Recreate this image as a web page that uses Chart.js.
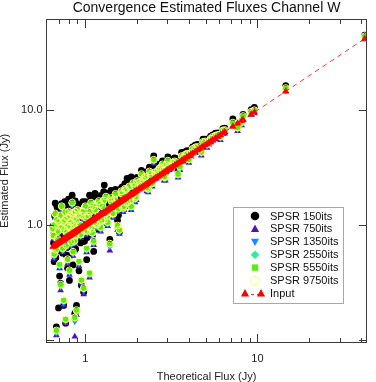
<!DOCTYPE html>
<html><head><meta charset="utf-8">
<script src="https://cdn.jsdelivr.net/npm/chart.js@4/dist/chart.umd.min.js"></script>
<style>html,body{margin:0;padding:0;background:#fff}canvas{display:block}</style>
</head><body>
<canvas id="c" width="376" height="382"></canvas>
<script>
const chartTitle = 'Convergence Estimated Fluxes Channel W';
const xTitle = 'Theoretical Flux (Jy)';
const yTitle = 'Estimated Flux (Jy)';
const seriesNames = ['SPSR 150its','SPSR 750its','SPSR 1350its','SPSR 2550its','SPSR 5550its','SPSR 9750its','Input'];
const xTickValues = [1, 10];
const xTickLabels = ['1', '10'];
const xMinorTicks = [0.7,0.8,0.9,2,3,4,5,6,7,8,9,20,30,40];
const yTickValues = [0.1, 1, 10];
const yTickLabels = ['0.1', '1.0', '10.0'];

const theoFlux = [0.65,0.66,0.67,0.68,0.69,0.70,0.71,0.72,0.73,0.74,0.75,0.76,0.77,0.78,0.79,0.80,0.81,0.82,0.83,0.84,0.85,0.86,0.87,0.88,0.89,0.90,0.92,0.93,0.95,0.96,0.98,0.99,
 1.00,1.02,1.04,1.06,1.08,1.10,1.12,1.14,1.17,1.20,1.23,1.26,1.29,1.32,1.35,1.39,1.42,1.46,1.50,1.54,1.58,1.62,1.66,1.70,1.75,1.80,1.85,1.90,1.95,2.00,
 2.05,2.12,2.20,2.28,2.36,2.45,2.50,2.58,2.70,2.81,2.92,3.02,3.15,3.30,3.46,3.63,3.79,4.00,4.20,4.35,4.60,4.83,5.10,5.35,5.70,6.10,6.47,
 7.20,7.67,8.10,8.25,9.20,9.60,14.6,42.0,
 0.655,0.665,0.675,0.685,0.695,0.705,0.715,0.725,0.735,0.745,0.755,0.765,0.775,0.785,0.795,0.805,0.815,0.825,0.835,0.845,0.855,0.865,0.875,0.885,0.895,0.91,0.94,0.97,
 1.01,1.03,1.05,1.07,1.09,1.11,1.13,1.16,1.19,1.22,1.25,1.28,1.31,1.34,1.37,1.41,1.44,1.48,1.52,1.56,1.60,1.64,1.68,1.72,1.78,1.83,1.88,1.93,1.98,
 2.08,2.16,2.24,2.32,2.41,2.54,2.64,2.76,2.87,2.97,3.08,3.22,3.38,3.55,3.71,3.90,4.10,4.48,4.72,4.97,5.22,5.50,5.90,6.30];
const est150 = [0.98,0.48,1.55,0.13,1.33,0.19,0.36,0.31,1.54,0.57,0.20,1.60,0.14,0.70,0.42,1.68,0.33,0.88,0.55,1.82,0.45,1.25,0.17,0.62,0.20,1.49,0.40,1.22,0.30,1.15,0.26,0.72,
 1.60,0.50,1.35,1.82,1.70,0.80,0.59,1.89,1.15,1.75,1.08,1.62,2.23,1.90,1.25,0.75,1.78,1.40,2.05,1.10,0.87,2.10,1.60,2.30,2.55,2.35,2.63,2.50,1.90,2.60,
 2.45,3.00,2.83,2.35,3.20,2.55,4.00,3.00,3.40,3.62,2.85,3.93,3.55,3.85,2.95,4.30,4.34,3.95,4.80,4.97,4.75,5.60,5.25,5.95,6.30,6.15,6.97,
 8.4,7.4,8.0,9.2,10.1,10.6,16.4,45.0,
 0.70,1.20,0.52,1.45,0.80,0.60,1.38,1.10,0.62,1.30,0.82,1.50,0.55,1.40,1.10,0.65,1.45,1.25,0.75,1.55,1.12,0.60,1.62,1.30,0.80,1.52,0.70,1.60,
 1.40,0.78,1.10,1.55,1.05,1.75,1.25,0.92,1.45,1.80,1.25,1.95,1.50,1.05,1.60,2.00,1.45,1.95,1.75,1.22,1.80,2.15,1.70,2.30,2.00,1.50,2.05,2.45,2.05,
 2.60,2.70,2.90,2.25,3.05,3.15,3.25,3.45,2.80,3.60,3.50,3.75,3.80,3.45,4.10,4.45,4.50,5.05,4.60,5.60,5.65,6.10,6.35,6.90];
const est750 = [0.86,0.51,1.16,0.11,0.70,0.98,0.42,0.27,1.35,0.58,0.20,1.02,0.14,0.79,0.46,1.21,0.37,0.88,0.65,1.44,0.54,1.07,0.107,0.74,0.165,1.26,0.44,0.93,0.31,1.12,0.25,0.82,
 1.35,0.58,1.12,0.35,1.44,0.79,0.67,1.26,0.93,1.49,0.88,1.35,1.02,1.63,0.98,0.60,1.49,1.16,1.72,0.91,0.84,1.81,1.30,1.91,1.44,2.00,1.35,2.14,1.58,2.23,
 2.07,2.59,2.40,1.97,2.73,2.16,3.45,2.54,2.91,3.15,2.44,3.38,3.10,3.34,2.59,3.71,3.81,3.48,4.28,4.42,4.23,4.94,4.70,5.26,5.59,5.50,6.25,
 7.3,6.6,7.4,8.3,9.1,9.4,14.6,41.5,
 0.75,0.94,0.56,1.03,0.83,0.64,1.13,0.89,0.68,0.99,0.85,1.20,0.62,1.08,0.92,0.73,1.13,0.99,0.81,1.18,0.94,0.68,1.22,1.02,0.86,1.15,0.77,1.22,
 1.08,0.83,0.89,1.22,0.86,1.36,0.99,0.96,1.13,1.41,1.02,1.52,1.18,1.11,1.27,1.60,1.18,1.55,1.41,1.30,1.46,1.74,1.36,1.88,1.65,1.52,1.69,2.02,1.65,
 2.21,2.30,2.44,1.93,2.59,2.68,2.77,2.96,2.44,3.10,3.01,3.24,3.29,3.01,3.57,3.90,3.95,4.47,4.04,4.98,5.03,5.45,5.69,6.20];
const est1350 = [0.88,0.53,1.20,0.115,0.72,1.01,0.43,0.29,1.39,0.60,0.21,1.06,0.145,0.82,0.48,1.25,0.385,0.91,0.67,1.49,0.56,1.10,0.145,0.77,0.17,1.30,0.46,0.96,0.32,1.15,0.27,0.85,
 1.39,0.60,1.15,0.365,1.49,0.82,0.69,1.30,0.96,1.54,0.91,1.39,1.06,1.68,1.01,0.65,1.54,1.20,1.78,0.94,0.86,1.87,1.34,1.97,1.49,2.06,1.39,2.21,1.63,2.30,
 2.13,2.67,2.47,2.04,2.81,2.23,3.56,2.62,3.01,3.25,2.52,3.49,3.20,3.44,2.67,3.83,3.93,3.59,4.41,4.56,4.37,5.09,4.85,5.43,5.77,5.67,6.45,
 7.5,6.8,7.6,8.5,9.3,9.6,15.0,42.5,
 0.78,0.97,0.58,1.07,0.85,0.66,1.16,0.92,0.70,1.02,0.87,1.24,0.64,1.12,0.95,0.76,1.16,1.02,0.83,1.21,0.97,0.70,1.26,1.05,0.89,1.18,0.80,1.26,
 1.12,0.85,0.92,1.26,0.89,1.41,1.02,0.99,1.16,1.46,1.05,1.57,1.21,1.14,1.31,1.65,1.21,1.60,1.46,1.34,1.50,1.79,1.41,1.94,1.70,1.57,1.75,2.09,1.70,
 2.28,2.38,2.52,1.99,2.67,2.76,2.86,3.06,2.52,3.20,3.10,3.35,3.40,3.10,3.69,4.03,4.07,4.61,4.17,5.14,5.19,5.63,5.87,6.40];
const est2550 = [0.91,0.545,1.24,0.119,0.74,1.04,0.445,0.297,1.44,0.61,0.218,1.09,0.149,0.84,0.495,1.29,0.396,0.94,0.69,1.53,0.574,1.14,0.153,0.79,0.178,1.34,0.475,0.99,0.327,1.19,0.277,0.87,
 1.44,0.61,1.19,0.376,1.53,0.84,0.71,1.34,0.99,1.58,0.94,1.44,1.09,1.73,1.04,0.67,1.58,1.24,1.83,0.97,0.89,1.93,1.39,2.03,1.53,2.13,1.44,2.28,1.68,2.38,
 2.18,2.72,2.52,2.08,2.87,2.28,3.63,2.67,3.07,3.32,2.57,3.56,3.27,3.51,2.72,3.91,4.01,3.66,4.50,4.65,4.46,5.20,4.95,5.54,5.89,5.79,6.58,
 7.6,6.9,7.7,8.7,9.5,9.8,15.3,43.0,
 0.79,0.99,0.59,1.09,0.87,0.67,1.19,0.94,0.71,1.04,0.89,1.27,0.65,1.14,0.97,0.77,1.19,1.04,0.85,1.24,0.99,0.71,1.29,1.07,0.91,1.21,0.81,1.29,
 1.14,0.87,0.94,1.29,0.91,1.44,1.04,1.01,1.19,1.49,1.07,1.60,1.24,1.17,1.34,1.68,1.24,1.63,1.49,1.37,1.53,1.83,1.44,1.98,1.73,1.60,1.78,2.13,1.73,
 2.33,2.43,2.57,2.03,2.72,2.82,2.92,3.12,2.57,3.27,3.17,3.42,3.47,3.17,3.76,4.11,4.16,4.70,4.26,5.25,5.30,5.74,5.99,6.53];
const est5550 = [0.92,0.55,1.25,0.12,0.75,1.05,0.45,0.30,1.45,0.62,0.22,1.10,0.15,0.85,0.50,1.30,0.40,0.95,0.70,1.55,0.58,1.15,0.155,0.80,0.18,1.35,0.48,1.00,0.33,1.20,0.28,0.88,
 1.45,0.62,1.20,0.38,1.55,0.85,0.72,1.35,1.00,1.60,0.95,1.45,1.10,1.75,1.05,0.68,1.60,1.25,1.85,0.98,0.90,1.95,1.40,2.05,1.55,2.15,1.45,2.30,1.70,2.40,
 2.20,2.75,2.55,2.10,2.90,2.30,3.67,2.70,3.10,3.35,2.60,3.60,3.30,3.55,2.75,3.95,4.05,3.70,4.55,4.70,4.50,5.25,5.00,5.60,5.95,5.85,6.65,
 7.7,7.0,7.8,8.8,9.6,9.9,15.4,43.5,
 0.80,1.00,0.60,1.10,0.88,0.68,1.20,0.95,0.72,1.05,0.90,1.28,0.66,1.15,0.98,0.78,1.20,1.05,0.86,1.25,1.00,0.72,1.30,1.08,0.92,1.22,0.82,1.30,
 1.15,0.88,0.95,1.30,0.92,1.45,1.05,1.02,1.20,1.50,1.08,1.62,1.25,1.18,1.35,1.70,1.25,1.65,1.50,1.38,1.55,1.85,1.45,2.00,1.75,1.62,1.80,2.15,1.75,
 2.35,2.45,2.60,2.05,2.75,2.85,2.95,3.15,2.60,3.30,3.20,3.45,3.50,3.20,3.80,4.15,4.20,4.75,4.30,5.30,5.35,5.80,6.05,6.60];
const est9750 = [0.93,0.56,1.26,0.121,0.76,1.06,0.455,0.303,1.46,0.63,0.222,1.11,0.152,0.86,0.505,1.31,0.404,0.96,0.71,1.57,0.586,1.16,0.157,0.81,0.182,1.36,0.485,1.01,0.333,1.21,0.283,0.89,
 1.46,0.63,1.21,0.384,1.57,0.86,0.73,1.36,1.01,1.62,0.96,1.46,1.11,1.77,1.06,0.69,1.62,1.26,1.87,0.99,0.91,1.97,1.41,2.07,1.57,2.17,1.46,2.32,1.72,2.42,
 2.22,2.78,2.58,2.12,2.93,2.32,3.71,2.73,3.13,3.38,2.63,3.64,3.33,3.59,2.78,3.99,4.09,3.74,4.60,4.75,4.55,5.30,5.05,5.66,6.01,5.91,6.72,
 7.8,7.1,7.9,8.9,9.7,10.0,15.6,44.0,
 0.81,1.01,0.61,1.11,0.89,0.69,1.21,0.96,0.73,1.06,0.91,1.29,0.67,1.16,0.99,0.79,1.21,1.06,0.87,1.26,1.01,0.73,1.31,1.09,0.93,1.23,0.83,1.31,
 1.16,0.89,0.96,1.31,0.93,1.46,1.06,1.03,1.21,1.52,1.09,1.64,1.26,1.19,1.36,1.72,1.26,1.67,1.52,1.39,1.57,1.87,1.46,2.02,1.77,1.64,1.82,2.17,1.77,
 2.37,2.47,2.63,2.07,2.78,2.88,2.98,3.18,2.63,3.33,3.23,3.48,3.54,3.23,3.84,4.19,4.24,4.80,4.34,5.35,5.40,5.86,6.11,6.67];
// the input flux of each source is its theoretical flux
const inputFlux = theoFlux;

const FONT = '"Liberation Sans", Arial, Helvetica, sans-serif';
const pts = (ys) => theoFlux.map((x, i) => ({x: x, y: ys[i]})).filter(p => p.y !== undefined);

const styles = [
  {data: est150, style: 'circle', rot: 0, r: 3.4, bg: '#000000', bc: '#000000', bw: 0, lg: 'circle'},
  {data: est750, style: 'triangle', rot: 0, r: 3.9, bg: '#5512bb', bc: '#5512bb', bw: 0, lg: 'tri'},
  {data: est1350, style: 'triangle', rot: 180, r: 3.9, bg: '#1a8cff', bc: '#1a8cff', bw: 0, lg: 'dtri'},
  {data: est2550, style: 'rectRot', rot: 0, r: 3.7, bg: '#2aee9a', bc: '#2aee9a', bw: 0, lg: 'diamond'},
  {data: est5550, style: 'rect', rot: 0, r: 4.0, bg: '#5cec10', bc: '#5cec10', bw: 0, lg: 'square'},
  {data: est9750, style: 'circle', rot: 0, r: 3.4, bg: 'rgba(0,0,0,0)', bc: '#ffff80', bw: 1, lg: 'ocircle'}
];

const datasets = styles.map((s, i) => ({
  label: seriesNames[i],
  data: pts(s.data),
  pointStyle: s.style,
  rotation: s.rot,
  pointRadius: s.r,
  backgroundColor: s.bg,
  borderColor: s.bc,
  pointBorderWidth: s.bw,
  showLine: false,
  order: 6 - i
}));
datasets.push({
  label: seriesNames[6],
  data: pts(inputFlux).sort((a, b) => a.x - b.x),
  pointStyle: 'triangle',
  pointRadius: 4.2,
  backgroundColor: '#ff0000',
  borderColor: 'rgba(255,30,30,0.9)',
  pointBorderWidth: 0,
  borderWidth: 1,
  borderDash: [5, 4],
  showLine: true,
  order: 0
});

function mark(ctx, kind, x, y, r) {
  ctx.beginPath();
  if (kind === 'circle' || kind === 'ocircle') ctx.arc(x, y, r, 0, Math.PI * 2);
  else if (kind === 'tri') { ctx.moveTo(x, y - r); ctx.lineTo(x + r * 0.95, y + r * 0.7); ctx.lineTo(x - r * 0.95, y + r * 0.7); ctx.closePath(); }
  else if (kind === 'dtri') { ctx.moveTo(x, y + r); ctx.lineTo(x + r * 0.95, y - r * 0.7); ctx.lineTo(x - r * 0.95, y - r * 0.7); ctx.closePath(); }
  else if (kind === 'diamond') { ctx.moveTo(x, y - r); ctx.lineTo(x + r, y); ctx.lineTo(x, y + r); ctx.lineTo(x - r, y); ctx.closePath(); }
  else if (kind === 'square') ctx.rect(x - r * 0.8, y - r * 0.8, r * 1.6, r * 1.6);
}

const decorPlugin = {
  id: 'decor',
  afterDraw(chart) {
    const {ctx, chartArea: a, scales: {x, y}} = chart;
    ctx.save();
    ctx.strokeStyle = '#3a3a3a';
    ctx.lineWidth = 1;
    ctx.strokeRect(a.left - 0.5, a.top - 0.5, a.right - a.left + 1, a.bottom - a.top + 1);
    ctx.beginPath();
    const vt = (v, len) => {
      const px = Math.round(x.getPixelForValue(v)) + 0.5;
      ctx.moveTo(px, a.bottom); ctx.lineTo(px, a.bottom - len);
      ctx.moveTo(px, a.top); ctx.lineTo(px, a.top + len);
    };
    xTickValues.forEach(v => vt(v, 8));
    xMinorTicks.forEach(v => vt(v, 4));
    yTickValues.forEach(v => {
      const py = Math.round(y.getPixelForValue(v)) + 0.5;
      ctx.moveTo(a.left, py); ctx.lineTo(a.left + 7, py);
      ctx.moveTo(a.right, py); ctx.lineTo(a.right - 7, py);
    });
    ctx.stroke();
    ctx.fillStyle = '#111';
    ctx.font = '14px ' + FONT;
    ctx.textAlign = 'center';
    ctx.textBaseline = 'alphabetic';
    ctx.fillText(chartTitle, (a.left + a.right) / 2, 11.8);
    const L = 233.5, T = 207.5, W = 110, H = 96;
    ctx.fillStyle = '#fff';
    ctx.fillRect(L, T, W, H);
    ctx.strokeStyle = '#a8a8a8';
    ctx.strokeRect(L, T, W, H);
    ctx.font = '11px ' + FONT;
    ctx.textAlign = 'left';
    ctx.textBaseline = 'middle';
    const mx = 255, tx = 270;
    for (let i = 0; i < 7; i++) {
      const yy = 216 + i * 12.9;
      if (i < 6) {
        const s = styles[i];
        mark(ctx, s.lg, mx, yy, s.lg === 'square' ? 4 : 4.3);
        if (s.lg === 'ocircle') { ctx.strokeStyle = s.bc; ctx.lineWidth = 1; ctx.stroke(); }
        else { ctx.fillStyle = s.bg; ctx.fill(); }
      } else {
        ctx.strokeStyle = '#ff2020'; ctx.lineWidth = 1;
        ctx.setLineDash([3, 3]);
        ctx.beginPath(); ctx.moveTo(245, yy + 1); ctx.lineTo(261, yy + 1); ctx.stroke();
        ctx.setLineDash([]);
        ctx.fillStyle = '#ff0000';
        mark(ctx, 'tri', 245, yy, 4.3); ctx.fill();
        mark(ctx, 'tri', 261, yy, 4.3); ctx.fill();
      }
      ctx.fillStyle = '#111';
      ctx.fillText(seriesNames[i], tx, yy + 0.5);
    }
    ctx.restore();
  }
};

const labelFor = (vals, labels) => (v) => {
  for (let i = 0; i < vals.length; i++) if (Math.abs(v - vals[i]) < vals[i] * 1e-6) return labels[i];
  return '';
};

new Chart(document.getElementById('c'), {
  type: 'scatter',
  data: {datasets},
  options: {
    responsive: false,
    animation: false,
    devicePixelRatio: 1,
    layout: {padding: {top: 20, right: 2, left: 0, bottom: 0}},
    plugins: {legend: {display: false}, title: {display: false}, tooltip: {enabled: false}},
    scales: {
      x: {
        type: 'logarithmic', min: 0.647, max: 42.7,
        grid: {display: false, drawTicks: false},
        border: {display: false},
        ticks: {autoSkip: false, maxRotation: 0, minRotation: 0, padding: 10, color: '#222',
                font: {family: FONT, size: 11}, callback: labelFor(xTickValues, xTickLabels)},
        title: {display: true, text: xTitle, color: '#222', font: {family: FONT, size: 11, lineHeight: 1}, padding: {top: 0, bottom: 0}},
        afterFit(s) { s.height = 40; }
      },
      y: {
        type: 'logarithmic', min: 0.096, max: 61,
        grid: {display: false, drawTicks: false},
        border: {display: false},
        ticks: {autoSkip: false, padding: 4.5, color: '#222',
                font: {family: FONT, size: 11}, callback: labelFor(yTickValues, yTickLabels)},
        title: {display: true, text: yTitle, color: '#222', font: {family: FONT, size: 11, lineHeight: 0.85}, padding: {top: 0, bottom: 0}},
        afterFit(s) { s.width = 47; }
      }
    }
  },
  plugins: [decorPlugin]
});
</script>
</body></html>
